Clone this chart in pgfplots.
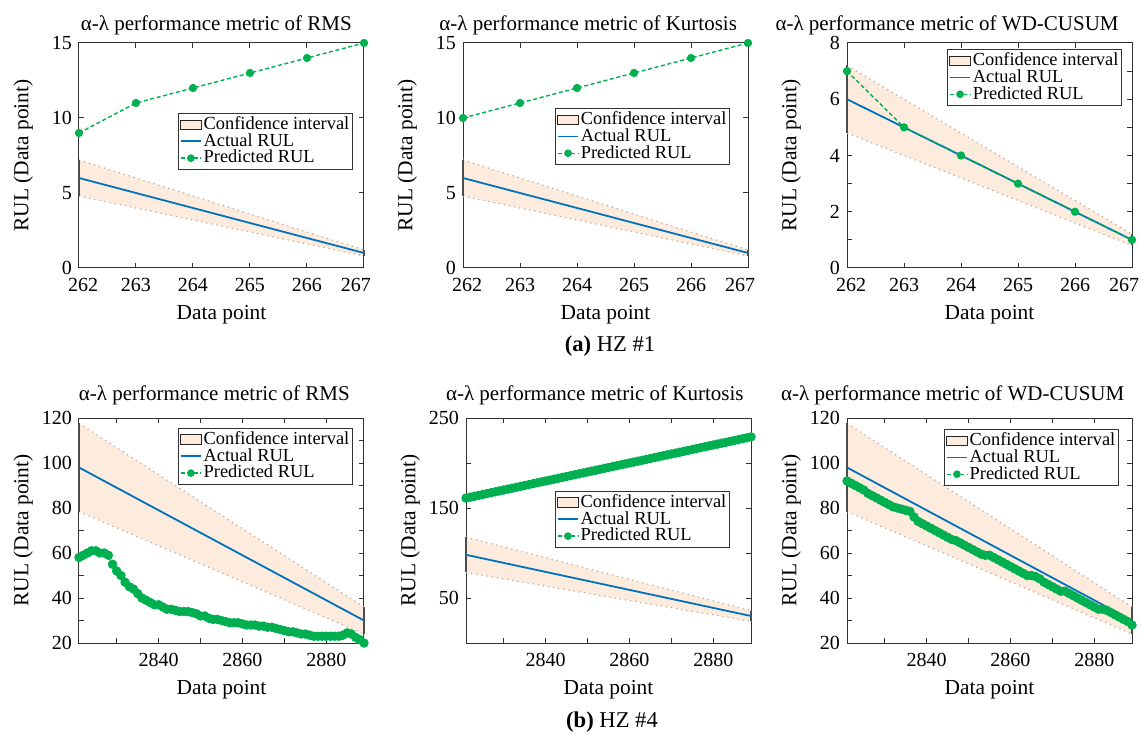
\documentclass[border=0pt]{standalone}
\usepackage{pgfplots}
\pgfplotsset{compat=1.18}
\usepackage{pgfplotstable}
\usepackage{fontspec}
\setmainfont{Liberation Serif}

\definecolor{bandfill}{RGB}{253,235,221}
\definecolor{bandedge}{RGB}{185,170,160}
\definecolor{actblue}{RGB}{0,114,189}
\definecolor{predgreen}{RGB}{0,176,80}
\definecolor{axgray}{RGB}{50,50,50}

% Predicted RUL, HZ #4 (one value per data point)
\pgfplotstableread{
x y
2821 58
2822 59
2823 60
2824 61
2825 61
2826 60
2827 60
2828 59
2829 55
2830 52
2831 50
2832 47
2833 45
2834 44
2835 42
2836 40
2837 39
2838 38
2839 37
2840 37
2841 36
2842 35
2843 35
2844 34.5
2845 34
2846 34
2847 34
2848 33.5
2849 33
2850 32
2851 32
2852 31
2853 30.5
2854 30.5
2855 30
2856 29.5
2857 29
2858 29
2859 29
2860 28.5
2861 28
2862 28
2863 28
2864 27.5
2865 27.5
2866 27
2867 27
2868 26.5
2869 26
2870 25.5
2871 25
2872 25
2873 24.5
2874 24
2875 24
2876 23.5
2877 23
2878 23
2879 23
2880 23
2881 23
2882 23
2883 23
2884 23.5
2885 24.5
2886 24
2887 22.5
2888 21.5
2889 20
}\predRMS

\pgfplotstableread{
x y
2821 161
2822 162
2823 163
2824 164
2825 165
2826 166
2827 167
2828 168
2829 169
2830 170
2831 171
2832 172
2833 173
2834 174
2835 175
2836 176
2837 177
2838 178
2839 179
2840 180
2841 181
2842 182
2843 183
2844 184
2845 185
2846 186
2847 187
2848 188
2849 189
2850 190
2851 191
2852 192
2853 193
2854 194
2855 195
2856 196
2857 197
2858 198
2859 199
2860 200
2861 201
2862 202
2863 203
2864 204
2865 205
2866 206
2867 207
2868 208
2869 209
2870 210
2871 211
2872 212
2873 213
2874 214
2875 215
2876 216
2877 217
2878 218
2879 219
2880 220
2881 221
2882 222
2883 223
2884 224
2885 225
2886 226
2887 227
2888 228
2889 229
}\predKurt

\pgfplotstableread{
x y
2821 92
2822 91
2823 90
2824 89
2825 88
2826 86.5
2827 85.5
2828 84.5
2829 83.5
2830 82.5
2831 81.5
2832 80.5
2833 80
2834 79.5
2835 79
2836 78.5
2837 76
2838 74
2839 73
2840 72
2841 71
2842 70
2843 69
2844 68
2845 67
2846 66
2847 65.5
2848 64.5
2849 63.5
2850 62.5
2851 61.5
2852 60.5
2853 59.5
2854 59
2855 59
2856 58
2857 57
2858 56
2859 55
2860 54
2861 53
2862 52
2863 51
2864 50
2865 50
2866 49.5
2867 48.5
2868 47
2869 46
2870 45
2871 44
2872 43
2873 43
2874 42
2875 41
2876 40
2877 39
2878 38
2879 37
2880 36
2881 35
2882 35
2883 34.5
2884 33.5
2885 32.5
2886 31.5
2887 30.5
2888 29.5
2889 28
}\predWD

\pgfplotsset{
  rulax/.style={
    scale only axis, width=142.5pt, height=112.5pt, anchor=south west,
    clip=false,
    axis line style={axgray, line width=0.5pt},
    tick style={axgray, line width=0.5pt},
    tick align=inside, major tick length=2.5pt, minor tick length=2.5pt,
    /pgf/number format/assume math mode=true,
    /pgf/number format/1000 sep={},
    scaled ticks=false,
    ticklabel style={font=\fontsize{10}{12}\selectfont},
    xticklabel style={yshift=-1.5pt},
    every axis title/.style={anchor=base, font=\fontsize{10.5}{12}\selectfont},
    label style={font=\fontsize{10.7}{12}\selectfont},
    xlabel={Data point}, ylabel={RUL (Data point)},
    ylabel style={at={(axis description cs:-0.137,0.5)}, anchor=south},
    legend cell align=left,
    legend style={font=\fontsize{9.2}{10}\selectfont, draw=axgray,
      inner sep=0.8pt, row sep=-1.2pt,
      nodes={inner sep=0.8pt, text height=6.4pt, text depth=1.6pt}},
  },
  band/.style={fill=bandfill, draw=none, forget plot},
  bandline/.style={draw=bandedge, line width=0.6pt, dotted, forget plot},
  bandend/.style={draw=black!70, line width=0.6pt, forget plot},
  actual/.style={draw=actblue, color=actblue, line width=0.9pt, forget plot},
  pred/.style={draw=predgreen, color=predgreen, line width=0.7pt,
    dash pattern=on 2pt off 1.3pt, forget plot,
    mark=*, mark size=1.7pt, mark options={solid, fill=predgreen, draw=predgreen}},
  dense/.style={mark size=2pt},
  rowone/.style={rulax, xmin=262, xmax=267, xtick={262,263,264,265,266,267},
    xticklabels={\makebox[0pt]{\hspace*{4pt}262}, 263, 264, 265, 266,
      \makebox[0pt]{267\hspace*{8pt}}}},
  rowtwo/.style={rulax, xmin=2821, xmax=2889, xtick={2840,2860,2880},
    minor xtick={2830,2850,2870}},
}

% legend keys shared by all six panels
\newcommand{\rulkeys}{%
  \addlegendimage{legend image code/.code={%
    \draw[fill=bandfill, draw=black!85, line width=0.5pt]
      (0cm,-0.08cm) rectangle (0.36cm,0.08cm);}}
  \addlegendentry{Confidence interval}
  \addlegendimage{legend image code/.code={%
    \draw[draw=actblue, line width=0.9pt] (0cm,0cm) -- (0.36cm,0cm);}}
  \addlegendentry{Actual RUL}
  \addlegendimage{legend image code/.code={%
    \draw[draw=predgreen, line width=0.7pt, dash pattern=on 2pt off 1.3pt]
      (0cm,0cm) -- (0.36cm,0cm);
    \fill[predgreen] (0.18cm,0cm) circle[radius=1.7pt];}}
  \addlegendentry{Predicted RUL}}

\begin{document}
\begin{tikzpicture}
\useasboundingbox (0,0) rectangle (571.5pt,367pt);

% ---------------- HZ #1 ----------------
\begin{axis}[rowone, at={(39.5pt,233pt)},
  ymin=0, ymax=15, ytick={0,5,10,15},
  title={α-λ performance metric of RMS},
  title style={at={(0.482,1)}, yshift=6.3pt},
  legend style={at={(0.961,0.689)}, anchor=north east}]
  \rulkeys
  \addplot[band] coordinates {(262,7.2) (267,1.2) (267,0.8) (262,4.8)} -- cycle;
  \addplot[bandline] coordinates {(262,7.2) (267,1.2)};
  \addplot[bandline] coordinates {(262,4.8) (267,0.8)};
  \addplot[bandend] coordinates {(262,4.8) (262,7.2)};
  \addplot[bandend] coordinates {(267,0.8) (267,1.2)};
  \addplot[actual] coordinates {(262,6) (267,1)};
  \addplot[pred] coordinates {(262,9) (263,11) (264,12) (265,13) (266,14) (267,15)};
\end{axis}

\begin{axis}[rowone, at={(231.5pt,233pt)},
  ymin=0, ymax=15, ytick={0,5,10,15},
  title={α-λ performance metric of Kurtosis},
  title style={at={(0.439,1)}, yshift=6.3pt},
  legend style={at={(0.937,0.711)}, anchor=north east}]
  \rulkeys
  \addplot[band] coordinates {(262,7.2) (267,1.2) (267,0.8) (262,4.8)} -- cycle;
  \addplot[bandline] coordinates {(262,7.2) (267,1.2)};
  \addplot[bandline] coordinates {(262,4.8) (267,0.8)};
  \addplot[bandend] coordinates {(262,4.8) (262,7.2)};
  \addplot[bandend] coordinates {(267,0.8) (267,1.2)};
  \addplot[actual] coordinates {(262,6) (267,1)};
  \addplot[pred] coordinates {(262,10) (263,11) (264,12) (265,13) (266,14) (267,15)};
\end{axis}

\begin{axis}[rowone, at={(423.5pt,233pt)},
  ymin=0, ymax=8, ytick={0,2,4,6,8}, minor ytick={1,3,5,7},
  title={α-λ performance metric of WD-CUSUM},
  title style={at={(0.351,1)}, yshift=6.3pt},
  legend style={at={(0.965,0.973)}, anchor=north east}]
  \rulkeys
  \addplot[band] coordinates {(262,7.2) (267,1.2) (267,0.8) (262,4.8)} -- cycle;
  \addplot[bandline] coordinates {(262,7.2) (267,1.2)};
  \addplot[bandline] coordinates {(262,4.8) (267,0.8)};
  \addplot[bandend] coordinates {(262,4.8) (262,7.2)};
  \addplot[bandend] coordinates {(267,0.8) (267,1.2)};
  \addplot[actual] coordinates {(262,6) (267,1)};
  \addplot[pred] coordinates {(262,7) (263,5) (264,4) (265,3) (266,2) (267,1)};
\end{axis}

\node[font=\fontsize{11.3}{13}\selectfont] at (305pt,194pt) {\textbf{(a)} HZ \#1};

% ---------------- HZ #4 ----------------
\begin{axis}[rowtwo, at={(39.5pt,45.5pt)},
  ymin=20, ymax=120, ytick={20,40,...,120}, minor ytick={30,50,...,110},
  title={α-λ performance metric of RMS},
  title style={at={(0.475,1)}, yshift=8.8pt},
  legend style={at={(0.961,0.956)}, anchor=north east}]
  \rulkeys
  \addplot[band] coordinates {(2821,117.6) (2889,36) (2889,24) (2821,78.4)} -- cycle;
  \addplot[bandline] coordinates {(2821,117.6) (2889,36)};
  \addplot[bandline] coordinates {(2821,78.4) (2889,24)};
  \addplot[bandend] coordinates {(2821,78.4) (2821,117.6)};
  \addplot[bandend] coordinates {(2889,24) (2889,36)};
  \addplot[actual] coordinates {(2821,98) (2889,30)};
  \addplot[pred, dense] table[x=x, y=y] {\predRMS};
\end{axis}

\begin{axis}[rowtwo, at={(233pt,45.5pt)},
  ymin=0, ymax=250, ytick={50,150,250}, minor ytick={0,100,200},
  title={α-λ performance metric of Kurtosis},
  title style={at={(0.452,1)}, yshift=8.8pt},
  legend style={at={(0.926,0.676)}, anchor=north east}]
  \rulkeys
  \addplot[band] coordinates {(2821,117.6) (2889,36) (2889,24) (2821,78.4)} -- cycle;
  \addplot[bandline] coordinates {(2821,117.6) (2889,36)};
  \addplot[bandline] coordinates {(2821,78.4) (2889,24)};
  \addplot[bandend] coordinates {(2821,78.4) (2821,117.6)};
  \addplot[bandend] coordinates {(2889,24) (2889,36)};
  \addplot[actual] coordinates {(2821,98) (2889,30)};
  \addplot[pred, dense] table[x=x, y=y] {\predKurt};
\end{axis}

\begin{axis}[rowtwo, at={(423.5pt,45.5pt)},
  ymin=20, ymax=120, ytick={20,40,...,120}, minor ytick={30,50,...,110},
  title={α-λ performance metric of WD-CUSUM},
  title style={at={(0.371,1)}, yshift=8.8pt},
  legend style={at={(0.954,0.951)}, anchor=north east}]
  \rulkeys
  \addplot[band] coordinates {(2821,117.6) (2889,36) (2889,24) (2821,78.4)} -- cycle;
  \addplot[bandline] coordinates {(2821,117.6) (2889,36)};
  \addplot[bandline] coordinates {(2821,78.4) (2889,24)};
  \addplot[bandend] coordinates {(2821,78.4) (2821,117.6)};
  \addplot[bandend] coordinates {(2889,24) (2889,36)};
  \addplot[actual] coordinates {(2821,98) (2889,30)};
  \addplot[pred, dense] table[x=x, y=y] {\predWD};
\end{axis}

\node[font=\fontsize{11.3}{13}\selectfont] at (306pt,6pt) {\textbf{(b)} HZ \#4};
\end{tikzpicture}
\end{document}
